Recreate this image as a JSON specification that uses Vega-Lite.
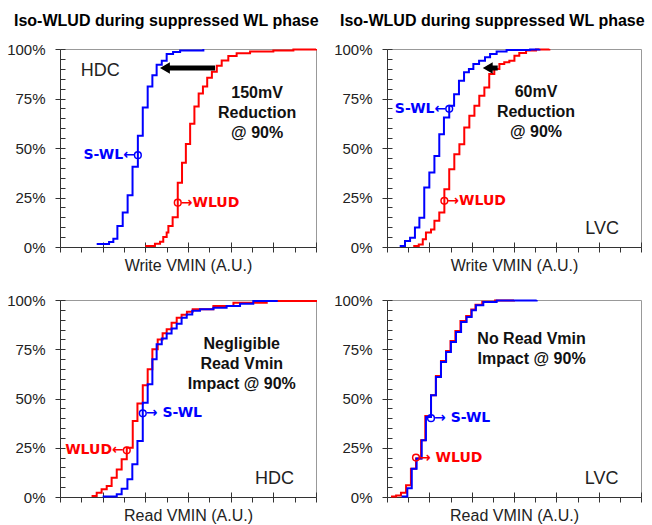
{
"$schema": "https://vega.github.io/schema/vega-lite/v6.json",
"background": "white",
"padding": {"left": 6, "top": 12, "right": 5, "bottom": 0},
"config": {"font": "Liberation Sans", "view": {"stroke": "#999999", "strokeWidth": 1}, "axis": {"domainColor": "#333333", "tickColor": "#333333", "grid": false}},
"datasets": {
"lines": [
{"panel":"TL","series":"S-WL","x":1.72,"y":1.5},{"panel":"TL","series":"S-WL","x":2.3,"y":2.5},{"panel":"TL","series":"S-WL","x":2.5,"y":4.2},{"panel":"TL","series":"S-WL","x":2.69,"y":10.6},{"panel":"TL","series":"S-WL","x":2.94,"y":17.4},{"panel":"TL","series":"S-WL","x":3.17,"y":26.1},{"panel":"TL","series":"S-WL","x":3.4,"y":40.5},{"panel":"TL","series":"S-WL","x":3.65,"y":56.2},{"panel":"TL","series":"S-WL","x":3.88,"y":70.5},{"panel":"TL","series":"S-WL","x":4.11,"y":81.1},{"panel":"TL","series":"S-WL","x":4.33,"y":86.8},{"panel":"TL","series":"S-WL","x":4.53,"y":92.1},{"panel":"TL","series":"S-WL","x":4.77,"y":94.1},{"panel":"TL","series":"S-WL","x":5.0,"y":97.5},{"panel":"TL","series":"S-WL","x":5.3,"y":98.5},{"panel":"TL","series":"S-WL","x":5.63,"y":99.2},{"panel":"TL","series":"S-WL","x":6.72,"y":100},
{"panel":"TL","series":"WLUD","x":4.0,"y":0.5},{"panel":"TL","series":"WLUD","x":4.45,"y":1.7},{"panel":"TL","series":"WLUD","x":4.69,"y":2.7},{"panel":"TL","series":"WLUD","x":4.84,"y":5.1},{"panel":"TL","series":"WLUD","x":5.0,"y":7.3},{"panel":"TL","series":"WLUD","x":5.08,"y":10.6},{"panel":"TL","series":"WLUD","x":5.28,"y":15.0},{"panel":"TL","series":"WLUD","x":5.52,"y":32.5},{"panel":"TL","series":"WLUD","x":5.72,"y":42.5},{"panel":"TL","series":"WLUD","x":5.9,"y":52.0},{"panel":"TL","series":"WLUD","x":6.1,"y":62.3},{"panel":"TL","series":"WLUD","x":6.3,"y":71.0},{"panel":"TL","series":"WLUD","x":6.5,"y":77.5},{"panel":"TL","series":"WLUD","x":6.7,"y":81.0},{"panel":"TL","series":"WLUD","x":6.9,"y":85.5},{"panel":"TL","series":"WLUD","x":7.12,"y":88.5},{"panel":"TL","series":"WLUD","x":7.35,"y":91.6},{"panel":"TL","series":"WLUD","x":7.58,"y":94.2},{"panel":"TL","series":"WLUD","x":7.89,"y":96.5},{"panel":"TL","series":"WLUD","x":8.28,"y":97.8},{"panel":"TL","series":"WLUD","x":8.91,"y":98.8},{"panel":"TL","series":"WLUD","x":10.0,"y":99.3},{"panel":"TL","series":"WLUD","x":10.94,"y":99.8},{"panel":"TL","series":"WLUD","x":12,"y":100},
{"panel":"TR","series":"S-WL","x":0.6,"y":0.5},{"panel":"TR","series":"S-WL","x":0.85,"y":3.0},{"panel":"TR","series":"S-WL","x":1.09,"y":4.7},{"panel":"TR","series":"S-WL","x":1.32,"y":9.8},{"panel":"TR","series":"S-WL","x":1.53,"y":14.8},{"panel":"TR","series":"S-WL","x":1.76,"y":30.0},{"panel":"TR","series":"S-WL","x":2.0,"y":37.6},{"panel":"TR","series":"S-WL","x":2.24,"y":46.0},{"panel":"TR","series":"S-WL","x":2.47,"y":57.0},{"panel":"TR","series":"S-WL","x":2.69,"y":65.4},{"panel":"TR","series":"S-WL","x":2.94,"y":71.3},{"panel":"TR","series":"S-WL","x":3.17,"y":77.2},{"panel":"TR","series":"S-WL","x":3.4,"y":84.0},{"panel":"TR","series":"S-WL","x":3.64,"y":88.2},{"panel":"TR","series":"S-WL","x":3.87,"y":89.9},{"panel":"TR","series":"S-WL","x":4.08,"y":92.4},{"panel":"TR","series":"S-WL","x":4.35,"y":94.1},{"panel":"TR","series":"S-WL","x":4.63,"y":95.8},{"panel":"TR","series":"S-WL","x":4.87,"y":97.5},{"panel":"TR","series":"S-WL","x":5.18,"y":98.8},{"panel":"TR","series":"S-WL","x":5.65,"y":99.5},{"panel":"TR","series":"S-WL","x":6.76,"y":99.8},{"panel":"TR","series":"S-WL","x":7.2,"y":100},
{"panel":"TR","series":"WLUD","x":1.24,"y":0.5},{"panel":"TR","series":"WLUD","x":1.5,"y":1.3},{"panel":"TR","series":"WLUD","x":1.69,"y":3.9},{"panel":"TR","series":"WLUD","x":1.84,"y":7.3},{"panel":"TR","series":"WLUD","x":2.08,"y":8.9},{"panel":"TR","series":"WLUD","x":2.24,"y":13.2},{"panel":"TR","series":"WLUD","x":2.47,"y":17.4},{"panel":"TR","series":"WLUD","x":2.71,"y":29.2},{"panel":"TR","series":"WLUD","x":2.94,"y":39.3},{"panel":"TR","series":"WLUD","x":3.18,"y":46.9},{"panel":"TR","series":"WLUD","x":3.42,"y":51.9},{"panel":"TR","series":"WLUD","x":3.65,"y":60.4},{"panel":"TR","series":"WLUD","x":3.89,"y":66.3},{"panel":"TR","series":"WLUD","x":4.13,"y":71.3},{"panel":"TR","series":"WLUD","x":4.36,"y":76.4},{"panel":"TR","series":"WLUD","x":4.6,"y":80.6},{"panel":"TR","series":"WLUD","x":4.83,"y":87.4},{"panel":"TR","series":"WLUD","x":5.07,"y":89.9},{"panel":"TR","series":"WLUD","x":5.31,"y":92.4},{"panel":"TR","series":"WLUD","x":5.54,"y":93.3},{"panel":"TR","series":"WLUD","x":5.78,"y":94.1},{"panel":"TR","series":"WLUD","x":6.02,"y":96.6},{"panel":"TR","series":"WLUD","x":6.25,"y":98.0},{"panel":"TR","series":"WLUD","x":6.57,"y":99.2},{"panel":"TR","series":"WLUD","x":7.04,"y":99.7},{"panel":"TR","series":"WLUD","x":7.67,"y":100},
{"panel":"BL","series":"WLUD","x":1.48,"y":0.5},{"panel":"BL","series":"WLUD","x":1.72,"y":2.2},{"panel":"BL","series":"WLUD","x":1.95,"y":3.9},{"panel":"BL","series":"WLUD","x":2.19,"y":5.6},{"panel":"BL","series":"WLUD","x":2.42,"y":9.8},{"panel":"BL","series":"WLUD","x":2.66,"y":14.0},{"panel":"BL","series":"WLUD","x":2.89,"y":19.1},{"panel":"BL","series":"WLUD","x":3.13,"y":25.0},{"panel":"BL","series":"WLUD","x":3.41,"y":38.6},{"panel":"BL","series":"WLUD","x":3.63,"y":47.4},{"panel":"BL","series":"WLUD","x":3.88,"y":56.7},{"panel":"BL","series":"WLUD","x":4.11,"y":64.8},{"panel":"BL","series":"WLUD","x":4.33,"y":75.0},{"panel":"BL","series":"WLUD","x":4.58,"y":80.0},{"panel":"BL","series":"WLUD","x":4.81,"y":83.1},{"panel":"BL","series":"WLUD","x":5.0,"y":85.1},{"panel":"BL","series":"WLUD","x":5.23,"y":88.5},{"panel":"BL","series":"WLUD","x":5.47,"y":91.0},{"panel":"BL","series":"WLUD","x":5.7,"y":92.5},{"panel":"BL","series":"WLUD","x":5.95,"y":94.0},{"panel":"BL","series":"WLUD","x":6.22,"y":95.3},{"panel":"BL","series":"WLUD","x":7.19,"y":97.0},{"panel":"BL","series":"WLUD","x":8.13,"y":98.6},{"panel":"BL","series":"WLUD","x":9.69,"y":99.5},{"panel":"BL","series":"WLUD","x":12,"y":100},
{"panel":"BL","series":"S-WL","x":2.0,"y":0.3},{"panel":"BL","series":"S-WL","x":2.66,"y":1.4},{"panel":"BL","series":"S-WL","x":2.89,"y":4.2},{"panel":"BL","series":"S-WL","x":3.16,"y":9.0},{"panel":"BL","series":"S-WL","x":3.39,"y":16.6},{"panel":"BL","series":"S-WL","x":3.63,"y":28.4},{"panel":"BL","series":"S-WL","x":3.88,"y":47.9},{"panel":"BL","series":"S-WL","x":4.11,"y":57.2},{"panel":"BL","series":"S-WL","x":4.33,"y":69.9},{"panel":"BL","series":"S-WL","x":4.53,"y":77.5},{"panel":"BL","series":"S-WL","x":4.77,"y":80.5},{"panel":"BL","series":"S-WL","x":5.0,"y":83.0},{"panel":"BL","series":"S-WL","x":5.23,"y":85.5},{"panel":"BL","series":"S-WL","x":5.47,"y":88.0},{"panel":"BL","series":"S-WL","x":5.7,"y":91.0},{"panel":"BL","series":"S-WL","x":5.94,"y":92.7},{"panel":"BL","series":"S-WL","x":6.2,"y":94.5},{"panel":"BL","series":"S-WL","x":6.56,"y":95.3},{"panel":"BL","series":"S-WL","x":7.19,"y":96.1},{"panel":"BL","series":"S-WL","x":7.81,"y":97.0},{"panel":"BL","series":"S-WL","x":8.44,"y":98.1},{"panel":"BL","series":"S-WL","x":9.06,"y":99.5},{"panel":"BL","series":"S-WL","x":10.16,"y":100},
{"panel":"BR","series":"WLUD","x":0.19,"y":0.2},{"panel":"BR","series":"WLUD","x":0.43,"y":0.8},{"panel":"BR","series":"WLUD","x":0.66,"y":2.2},{"panel":"BR","series":"WLUD","x":0.9,"y":6.0},{"panel":"BR","series":"WLUD","x":1.13,"y":14.4},{"panel":"BR","series":"WLUD","x":1.37,"y":19.5},{"panel":"BR","series":"WLUD","x":1.61,"y":28.8},{"panel":"BR","series":"WLUD","x":1.81,"y":41.1},{"panel":"BR","series":"WLUD","x":2.08,"y":51.6},{"panel":"BR","series":"WLUD","x":2.31,"y":61.4},{"panel":"BR","series":"WLUD","x":2.55,"y":69.0},{"panel":"BR","series":"WLUD","x":2.79,"y":74.1},{"panel":"BR","series":"WLUD","x":3.0,"y":79.2},{"panel":"BR","series":"WLUD","x":3.23,"y":84.3},{"panel":"BR","series":"WLUD","x":3.47,"y":89.3},{"panel":"BR","series":"WLUD","x":3.74,"y":91.9},{"panel":"BR","series":"WLUD","x":3.98,"y":95.2},{"panel":"BR","series":"WLUD","x":4.18,"y":97.6},{"panel":"BR","series":"WLUD","x":4.5,"y":99.1},{"panel":"BR","series":"WLUD","x":5.1,"y":99.8},{"panel":"BR","series":"WLUD","x":6.0,"y":100},
{"panel":"BR","series":"S-WL","x":0.69,"y":0.3},{"panel":"BR","series":"S-WL","x":0.96,"y":4.5},{"panel":"BR","series":"S-WL","x":1.17,"y":14.4},{"panel":"BR","series":"S-WL","x":1.4,"y":19.5},{"panel":"BR","series":"S-WL","x":1.64,"y":28.8},{"panel":"BR","series":"S-WL","x":1.84,"y":40.6},{"panel":"BR","series":"S-WL","x":2.08,"y":51.6},{"panel":"BR","series":"S-WL","x":2.31,"y":60.9},{"panel":"BR","series":"S-WL","x":2.55,"y":68.5},{"panel":"BR","series":"S-WL","x":2.79,"y":73.6},{"panel":"BR","series":"S-WL","x":3.02,"y":78.7},{"panel":"BR","series":"S-WL","x":3.26,"y":83.8},{"panel":"BR","series":"S-WL","x":3.5,"y":88.8},{"panel":"BR","series":"S-WL","x":3.76,"y":91.4},{"panel":"BR","series":"S-WL","x":4.0,"y":94.8},{"panel":"BR","series":"S-WL","x":4.2,"y":97.3},{"panel":"BR","series":"S-WL","x":4.55,"y":99.0},{"panel":"BR","series":"S-WL","x":5.18,"y":99.8},{"panel":"BR","series":"S-WL","x":7.07,"y":100}
],
"labels": [
{"panel":"TL","series":"S-WL","side":"left","x":3.65,"y":46.4,"text":"S-WL←"},
{"panel":"TL","series":"WLUD","side":"right","x":5.52,"y":22.4,"text":"→WLUD"},
{"panel":"TR","series":"S-WL","side":"left","x":2.94,"y":69.8,"text":"S-WL←"},
{"panel":"TR","series":"WLUD","side":"right","x":2.71,"y":23.3,"text":"→WLUD"},
{"panel":"BL","series":"WLUD","side":"left","x":3.13,"y":23.7,"text":"WLUD←"},
{"panel":"BL","series":"S-WL","side":"right","x":3.88,"y":42.5,"text":"→ S-WL"},
{"panel":"BR","series":"S-WL","side":"right","x":2.08,"y":40.0,"text":"→ S-WL"},
{"panel":"BR","series":"WLUD","side":"right","x":1.37,"y":20.0,"text":"→ WLUD"}
],
"notes": [
{"panel":"TL","x":9.24,"y":77.8,"text":"150mV\nReduction\n@ 90%"},
{"panel":"TR","x":7.04,"y":78.3,"text":"60mV\nReduction\n@ 90%"},
{"panel":"BL","x":8.52,"y":77.7,"text":"Negligible\nRead Vmin\nImpact @ 90%"},
{"panel":"BR","x":6.83,"y":80.4,"text":"No Read Vmin\nImpact @ 90%"}
],
"sites": [
{"panel":"TL","x":1.89,"y":89.0,"text":"HDC"},
{"panel":"TR","x":10.16,"y":9.3,"text":"LVC"},
{"panel":"BL","x":10.06,"y":9.0,"text":"HDC"},
{"panel":"BR","x":10.14,"y":9.0,"text":"LVC"}
],
"arrows": [
{"panel":"TL","x":4.92,"x2":7.27,"y":90.4},
{"panel":"TR","x":4.76,"x2":5.23,"y":90.4}
]
},
"columns": 2,
"spacing": {"row": 53, "column": 71},
"bounds": "flush",
"concat": [
{
"width": 256, "height": 198,
"title": {"text": "Iso-WLUD during suppressed WL phase", "anchor": "start", "frame": "group", "dx": -46, "fontSize": 16, "fontWeight": "bold", "color": "#000000", "baseline": "alphabetic", "offset": 0},
"resolve": {"axis": {"x": "independent", "y": "independent"}},
"layer": [
{"data": {"name": "lines"}, "transform": [{"filter": "datum.panel === 'TL' && datum.series === 'WLUD'"}],
 "mark": {"type": "line", "interpolate": "step-after", "strokeWidth": 2},
 "encoding": {
  "x": {"field": "x", "type": "quantitative", "scale": {"domain": [0, 12], "nice": false, "zero": false}, "axis": {"values": [0,1,2,3,4,5,6,7,8,9,10,11,12], "tickSize": 5, "labels": false, "title": "Write VMIN (A.U.)", "titleFontSize": 16, "titleFontWeight": "normal", "titleColor": "#222222", "titlePadding": 5}},
  "y": {"field": "y", "type": "quantitative", "scale": {"domain": [0, 100], "nice": false}, "axis": {"values": [0,5,10,15,20,25,30,35,40,45,50,55,60,65,70,75,80,85,90,95,100], "tickSize": -5, "labelExpr": "datum.value % 25 === 0 ? datum.value + '%' : ''", "labelOverlap": false, "labelFontSize": 15, "labelColor": "#222222", "labelPadding": 20, "title": null}},
  "color": {"field": "series", "type": "nominal", "scale": {"domain": ["S-WL", "WLUD"], "range": ["#0000FF", "#FF0000"]}, "legend": null}}},
{"data": {"name": "lines"}, "transform": [{"filter": "datum.panel === 'TL' && datum.series === 'S-WL'"}],
 "mark": {"type": "line", "interpolate": "step-after", "strokeWidth": 2},
 "encoding": {
  "x": {"field": "x", "type": "quantitative", "axis": null},
  "y": {"field": "y", "type": "quantitative", "axis": null},
  "color": {"field": "series", "type": "nominal", "legend": null}}},
{"data": {"name": "labels"}, "transform": [{"filter": "datum.panel === 'TL'"}],
 "mark": {"type": "point", "shape": "circle", "filled": false, "size": 45, "strokeWidth": 1.5, "opacity": 1},
 "encoding": {
  "x": {"field": "x", "type": "quantitative", "axis": {"orient": "bottom", "values": [2,4,6,8,10,12], "tickSize": -5, "labels": false, "domain": false, "title": null}},
  "y": {"field": "y", "type": "quantitative", "axis": {"orient": "left", "values": [0,25,50,75,100], "tickSize": 5, "labels": false, "domain": false, "title": null}},
  "color": {"field": "series", "type": "nominal", "legend": null}}},
{"data": {"name": "labels"}, "transform": [{"filter": "datum.panel === 'TL' && datum.side === 'right'"}],
 "mark": {"type": "text", "align": "left", "baseline": "middle", "dx": 3, "font": "DejaVu Sans", "fontSize": 14, "fontWeight": "bold"},
 "encoding": {"x": {"field": "x", "type": "quantitative", "axis": null}, "y": {"field": "y", "type": "quantitative", "axis": null}, "text": {"field": "text"}, "color": {"field": "series", "type": "nominal", "legend": null}}},
{"data": {"name": "labels"}, "transform": [{"filter": "datum.panel === 'TL' && datum.side === 'left'"}],
 "mark": {"type": "text", "align": "right", "baseline": "middle", "dx": -3, "font": "DejaVu Sans", "fontSize": 14, "fontWeight": "bold"},
 "encoding": {"x": {"field": "x", "type": "quantitative", "axis": null}, "y": {"field": "y", "type": "quantitative", "axis": null}, "text": {"field": "text"}, "color": {"field": "series", "type": "nominal", "legend": null}}},
{"data": {"name": "notes"}, "transform": [{"filter": "datum.panel === 'TL'"}],
 "mark": {"type": "text", "align": "center", "baseline": "middle", "lineBreak": "\n", "lineHeight": 20, "fontSize": 16, "fontWeight": "bold", "color": "#111111"},
 "encoding": {"x": {"field": "x", "type": "quantitative", "axis": null}, "y": {"field": "y", "type": "quantitative", "axis": null}, "text": {"field": "text"}}},
{"data": {"name": "sites"}, "transform": [{"filter": "datum.panel === 'TL'"}],
 "mark": {"type": "text", "align": "center", "baseline": "middle", "fontSize": 18, "color": "#222222"},
 "encoding": {"x": {"field": "x", "type": "quantitative", "axis": null}, "y": {"field": "y", "type": "quantitative", "axis": null}, "text": {"field": "text"}}},
{"data": {"name": "arrows"}, "transform": [{"filter": "datum.panel === 'TL'"}],
 "mark": {"type": "rule", "strokeWidth": 5, "color": "#000000"},
 "encoding": {"x": {"field": "x", "type": "quantitative", "axis": null}, "x2": {"field": "x2"}, "y": {"field": "y", "type": "quantitative", "axis": null}}},
{"data": {"name": "arrows"}, "transform": [{"filter": "datum.panel === 'TL'"}],
 "mark": {"type": "point", "shape": "triangle-left", "filled": true, "size": 130, "color": "#000000", "opacity": 1},
 "encoding": {"x": {"field": "x", "type": "quantitative", "axis": null}, "y": {"field": "y", "type": "quantitative", "axis": null}}}
]
},
{
"width": 254, "height": 198,
"title": {"text": "Iso-WLUD during suppressed WL phase", "anchor": "start", "frame": "group", "dx": -47, "fontSize": 16, "fontWeight": "bold", "color": "#000000", "baseline": "alphabetic", "offset": 0},
"resolve": {"axis": {"x": "independent", "y": "independent"}},
"layer": [
{"data": {"name": "lines"}, "transform": [{"filter": "datum.panel === 'TR' && datum.series === 'WLUD'"}],
 "mark": {"type": "line", "interpolate": "step-after", "strokeWidth": 2},
 "encoding": {
  "x": {"field": "x", "type": "quantitative", "scale": {"domain": [0, 12], "nice": false, "zero": false}, "axis": {"values": [0,1,2,3,4,5,6,7,8,9,10,11,12], "tickSize": 5, "labels": false, "title": "Write VMIN (A.U.)", "titleFontSize": 16, "titleFontWeight": "normal", "titleColor": "#222222", "titlePadding": 5}},
  "y": {"field": "y", "type": "quantitative", "scale": {"domain": [0, 100], "nice": false}, "axis": {"values": [0,5,10,15,20,25,30,35,40,45,50,55,60,65,70,75,80,85,90,95,100], "tickSize": -5, "labelExpr": "datum.value % 25 === 0 ? datum.value + '%' : ''", "labelOverlap": false, "labelFontSize": 15, "labelColor": "#222222", "labelPadding": 20, "title": null}},
  "color": {"field": "series", "type": "nominal", "scale": {"domain": ["S-WL", "WLUD"], "range": ["#0000FF", "#FF0000"]}, "legend": null}}},
{"data": {"name": "lines"}, "transform": [{"filter": "datum.panel === 'TR' && datum.series === 'S-WL'"}],
 "mark": {"type": "line", "interpolate": "step-after", "strokeWidth": 2},
 "encoding": {
  "x": {"field": "x", "type": "quantitative", "axis": null},
  "y": {"field": "y", "type": "quantitative", "axis": null},
  "color": {"field": "series", "type": "nominal", "legend": null}}},
{"data": {"name": "labels"}, "transform": [{"filter": "datum.panel === 'TR'"}],
 "mark": {"type": "point", "shape": "circle", "filled": false, "size": 45, "strokeWidth": 1.5, "opacity": 1},
 "encoding": {
  "x": {"field": "x", "type": "quantitative", "axis": {"orient": "bottom", "values": [2,4,6,8,10,12], "tickSize": -5, "labels": false, "domain": false, "title": null}},
  "y": {"field": "y", "type": "quantitative", "axis": {"orient": "left", "values": [0,25,50,75,100], "tickSize": 5, "labels": false, "domain": false, "title": null}},
  "color": {"field": "series", "type": "nominal", "legend": null}}},
{"data": {"name": "labels"}, "transform": [{"filter": "datum.panel === 'TR' && datum.side === 'right'"}],
 "mark": {"type": "text", "align": "left", "baseline": "middle", "dx": 3, "font": "DejaVu Sans", "fontSize": 14, "fontWeight": "bold"},
 "encoding": {"x": {"field": "x", "type": "quantitative", "axis": null}, "y": {"field": "y", "type": "quantitative", "axis": null}, "text": {"field": "text"}, "color": {"field": "series", "type": "nominal", "legend": null}}},
{"data": {"name": "labels"}, "transform": [{"filter": "datum.panel === 'TR' && datum.side === 'left'"}],
 "mark": {"type": "text", "align": "right", "baseline": "middle", "dx": -3, "font": "DejaVu Sans", "fontSize": 14, "fontWeight": "bold"},
 "encoding": {"x": {"field": "x", "type": "quantitative", "axis": null}, "y": {"field": "y", "type": "quantitative", "axis": null}, "text": {"field": "text"}, "color": {"field": "series", "type": "nominal", "legend": null}}},
{"data": {"name": "notes"}, "transform": [{"filter": "datum.panel === 'TR'"}],
 "mark": {"type": "text", "align": "center", "baseline": "middle", "lineBreak": "\n", "lineHeight": 20, "fontSize": 16, "fontWeight": "bold", "color": "#111111"},
 "encoding": {"x": {"field": "x", "type": "quantitative", "axis": null}, "y": {"field": "y", "type": "quantitative", "axis": null}, "text": {"field": "text"}}},
{"data": {"name": "sites"}, "transform": [{"filter": "datum.panel === 'TR'"}],
 "mark": {"type": "text", "align": "center", "baseline": "middle", "fontSize": 18, "color": "#222222"},
 "encoding": {"x": {"field": "x", "type": "quantitative", "axis": null}, "y": {"field": "y", "type": "quantitative", "axis": null}, "text": {"field": "text"}}},
{"data": {"name": "arrows"}, "transform": [{"filter": "datum.panel === 'TR'"}],
 "mark": {"type": "rule", "strokeWidth": 5, "color": "#000000"},
 "encoding": {"x": {"field": "x", "type": "quantitative", "axis": null}, "x2": {"field": "x2"}, "y": {"field": "y", "type": "quantitative", "axis": null}}},
{"data": {"name": "arrows"}, "transform": [{"filter": "datum.panel === 'TR'"}],
 "mark": {"type": "point", "shape": "triangle-left", "filled": true, "size": 130, "color": "#000000", "opacity": 1},
 "encoding": {"x": {"field": "x", "type": "quantitative", "axis": null}, "y": {"field": "y", "type": "quantitative", "axis": null}}}
]
},
{
"width": 256, "height": 197,
"resolve": {"axis": {"x": "independent", "y": "independent"}},
"layer": [
{"data": {"name": "lines"}, "transform": [{"filter": "datum.panel === 'BL' && datum.series === 'WLUD'"}],
 "mark": {"type": "line", "interpolate": "step-after", "strokeWidth": 2},
 "encoding": {
  "x": {"field": "x", "type": "quantitative", "scale": {"domain": [0, 12], "nice": false, "zero": false}, "axis": {"values": [0,1,2,3,4,5,6,7,8,9,10,11,12], "tickSize": 5, "labels": false, "title": "Read VMIN (A.U.)", "titleFontSize": 16, "titleFontWeight": "normal", "titleColor": "#222222", "titlePadding": 5}},
  "y": {"field": "y", "type": "quantitative", "scale": {"domain": [0, 100], "nice": false}, "axis": {"values": [0,5,10,15,20,25,30,35,40,45,50,55,60,65,70,75,80,85,90,95,100], "tickSize": -5, "labelExpr": "datum.value % 25 === 0 ? datum.value + '%' : ''", "labelOverlap": false, "labelFontSize": 15, "labelColor": "#222222", "labelPadding": 20, "title": null}},
  "color": {"field": "series", "type": "nominal", "scale": {"domain": ["S-WL", "WLUD"], "range": ["#0000FF", "#FF0000"]}, "legend": null}}},
{"data": {"name": "lines"}, "transform": [{"filter": "datum.panel === 'BL' && datum.series === 'S-WL'"}],
 "mark": {"type": "line", "interpolate": "step-after", "strokeWidth": 2},
 "encoding": {
  "x": {"field": "x", "type": "quantitative", "axis": null},
  "y": {"field": "y", "type": "quantitative", "axis": null},
  "color": {"field": "series", "type": "nominal", "legend": null}}},
{"data": {"name": "labels"}, "transform": [{"filter": "datum.panel === 'BL'"}],
 "mark": {"type": "point", "shape": "circle", "filled": false, "size": 45, "strokeWidth": 1.5, "opacity": 1},
 "encoding": {
  "x": {"field": "x", "type": "quantitative", "axis": {"orient": "bottom", "values": [2,4,6,8,10,12], "tickSize": -5, "labels": false, "domain": false, "title": null}},
  "y": {"field": "y", "type": "quantitative", "axis": {"orient": "left", "values": [0,25,50,75,100], "tickSize": 5, "labels": false, "domain": false, "title": null}},
  "color": {"field": "series", "type": "nominal", "legend": null}}},
{"data": {"name": "labels"}, "transform": [{"filter": "datum.panel === 'BL' && datum.side === 'right'"}],
 "mark": {"type": "text", "align": "left", "baseline": "middle", "dx": 3, "font": "DejaVu Sans", "fontSize": 14, "fontWeight": "bold"},
 "encoding": {"x": {"field": "x", "type": "quantitative", "axis": null}, "y": {"field": "y", "type": "quantitative", "axis": null}, "text": {"field": "text"}, "color": {"field": "series", "type": "nominal", "legend": null}}},
{"data": {"name": "labels"}, "transform": [{"filter": "datum.panel === 'BL' && datum.side === 'left'"}],
 "mark": {"type": "text", "align": "right", "baseline": "middle", "dx": -3, "font": "DejaVu Sans", "fontSize": 14, "fontWeight": "bold"},
 "encoding": {"x": {"field": "x", "type": "quantitative", "axis": null}, "y": {"field": "y", "type": "quantitative", "axis": null}, "text": {"field": "text"}, "color": {"field": "series", "type": "nominal", "legend": null}}},
{"data": {"name": "notes"}, "transform": [{"filter": "datum.panel === 'BL'"}],
 "mark": {"type": "text", "align": "center", "baseline": "middle", "lineBreak": "\n", "lineHeight": 20, "fontSize": 16, "fontWeight": "bold", "color": "#111111"},
 "encoding": {"x": {"field": "x", "type": "quantitative", "axis": null}, "y": {"field": "y", "type": "quantitative", "axis": null}, "text": {"field": "text"}}},
{"data": {"name": "sites"}, "transform": [{"filter": "datum.panel === 'BL'"}],
 "mark": {"type": "text", "align": "center", "baseline": "middle", "fontSize": 18, "color": "#222222"},
 "encoding": {"x": {"field": "x", "type": "quantitative", "axis": null}, "y": {"field": "y", "type": "quantitative", "axis": null}, "text": {"field": "text"}}}
]
},
{
"width": 254, "height": 197,
"resolve": {"axis": {"x": "independent", "y": "independent"}},
"layer": [
{"data": {"name": "lines"}, "transform": [{"filter": "datum.panel === 'BR' && datum.series === 'WLUD'"}],
 "mark": {"type": "line", "interpolate": "step-after", "strokeWidth": 2},
 "encoding": {
  "x": {"field": "x", "type": "quantitative", "scale": {"domain": [0, 12], "nice": false, "zero": false}, "axis": {"values": [0,1,2,3,4,5,6,7,8,9,10,11,12], "tickSize": 5, "labels": false, "title": "Read VMIN (A.U.)", "titleFontSize": 16, "titleFontWeight": "normal", "titleColor": "#222222", "titlePadding": 5}},
  "y": {"field": "y", "type": "quantitative", "scale": {"domain": [0, 100], "nice": false}, "axis": {"values": [0,5,10,15,20,25,30,35,40,45,50,55,60,65,70,75,80,85,90,95,100], "tickSize": -5, "labelExpr": "datum.value % 25 === 0 ? datum.value + '%' : ''", "labelOverlap": false, "labelFontSize": 15, "labelColor": "#222222", "labelPadding": 20, "title": null}},
  "color": {"field": "series", "type": "nominal", "scale": {"domain": ["S-WL", "WLUD"], "range": ["#0000FF", "#FF0000"]}, "legend": null}}},
{"data": {"name": "lines"}, "transform": [{"filter": "datum.panel === 'BR' && datum.series === 'S-WL'"}],
 "mark": {"type": "line", "interpolate": "step-after", "strokeWidth": 2},
 "encoding": {
  "x": {"field": "x", "type": "quantitative", "axis": null},
  "y": {"field": "y", "type": "quantitative", "axis": null},
  "color": {"field": "series", "type": "nominal", "legend": null}}},
{"data": {"name": "labels"}, "transform": [{"filter": "datum.panel === 'BR'"}],
 "mark": {"type": "point", "shape": "circle", "filled": false, "size": 45, "strokeWidth": 1.5, "opacity": 1},
 "encoding": {
  "x": {"field": "x", "type": "quantitative", "axis": {"orient": "bottom", "values": [2,4,6,8,10,12], "tickSize": -5, "labels": false, "domain": false, "title": null}},
  "y": {"field": "y", "type": "quantitative", "axis": {"orient": "left", "values": [0,25,50,75,100], "tickSize": 5, "labels": false, "domain": false, "title": null}},
  "color": {"field": "series", "type": "nominal", "legend": null}}},
{"data": {"name": "labels"}, "transform": [{"filter": "datum.panel === 'BR' && datum.side === 'right'"}],
 "mark": {"type": "text", "align": "left", "baseline": "middle", "dx": 3, "font": "DejaVu Sans", "fontSize": 14, "fontWeight": "bold"},
 "encoding": {"x": {"field": "x", "type": "quantitative", "axis": null}, "y": {"field": "y", "type": "quantitative", "axis": null}, "text": {"field": "text"}, "color": {"field": "series", "type": "nominal", "legend": null}}},
{"data": {"name": "notes"}, "transform": [{"filter": "datum.panel === 'BR'"}],
 "mark": {"type": "text", "align": "center", "baseline": "middle", "lineBreak": "\n", "lineHeight": 20, "fontSize": 16, "fontWeight": "bold", "color": "#111111"},
 "encoding": {"x": {"field": "x", "type": "quantitative", "axis": null}, "y": {"field": "y", "type": "quantitative", "axis": null}, "text": {"field": "text"}}},
{"data": {"name": "sites"}, "transform": [{"filter": "datum.panel === 'BR'"}],
 "mark": {"type": "text", "align": "center", "baseline": "middle", "fontSize": 18, "color": "#222222"},
 "encoding": {"x": {"field": "x", "type": "quantitative", "axis": null}, "y": {"field": "y", "type": "quantitative", "axis": null}, "text": {"field": "text"}}}
]
}
]
}
